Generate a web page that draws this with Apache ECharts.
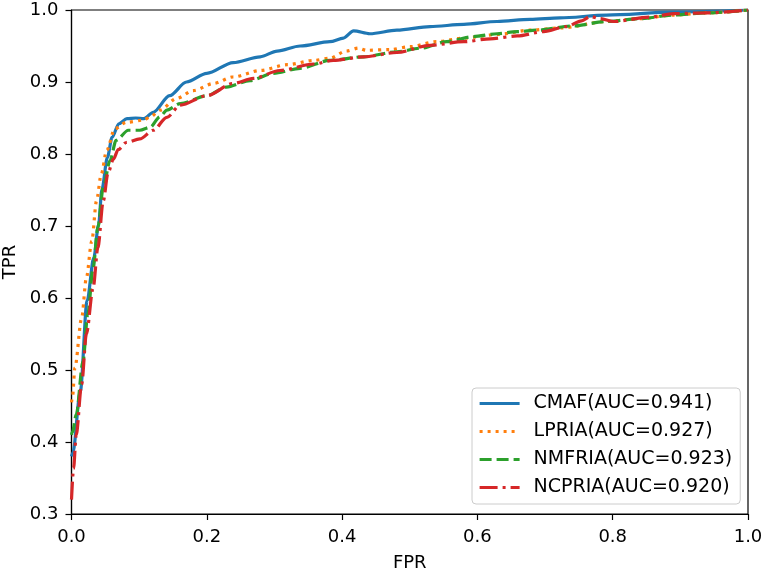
<!DOCTYPE html>
<html>
<head>
<meta charset="utf-8">
<title>ROC</title>
<script src="https://cdn.jsdelivr.net/npm/echarts@6/dist/echarts.min.js"></script>
<style>
    html, body { margin: 0; padding: 0; background: #fff; }
    #main { width: 765px; height: 571px; }
</style>
</head>
<body>
<div id="main"></div>
<script>
//刻度
let xTicks = [0, 0.2, 0.4, 0.6, 0.8, 1.0]
let yTicks = [0.3, 0.4, 0.5, 0.6, 0.7, 0.8, 0.9, 1.0]

//图例名称
let names = ['CMAF(AUC=0.941)', 'LPRIA(AUC=0.927)', 'NMFRIA(AUC=0.923)', 'NCPRIA(AUC=0.920)']

//CMAF
let cmafFpr = [0, 0.002, 0.013, 0.023, 0.033, 0.040, 0.045, 0.053, 0.060, 0.070, 0.082, 0.095, 0.107, 0.121, 0.145, 0.17, 0.2, 0.239, 0.279, 0.304, 0.338, 0.382, 0.402, 0.417, 0.441, 0.481, 0.53, 0.58, 0.629, 0.678, 0.722, 0.791, 0.89, 1.0]
let cmafTpr = [0.38, 0.385, 0.47, 0.596, 0.656, 0.702, 0.751, 0.795, 0.823, 0.842, 0.849, 0.85, 0.849, 0.858, 0.881, 0.900, 0.912, 0.927, 0.935, 0.943, 0.950, 0.956, 0.961, 0.971, 0.967, 0.972, 0.977, 0.980, 0.984, 0.987, 0.989, 0.993, 0.997, 1.0]

//LPRIA
let lpriaFpr = [0, 0.0015, 0.005, 0.015, 0.022, 0.03, 0.037, 0.044, 0.052, 0.064, 0.081, 0.106, 0.116, 0.131, 0.155, 0.18, 0.21, 0.239, 0.279, 0.319, 0.358, 0.382, 0.406, 0.424, 0.436, 0.471, 0.50, 0.54, 0.58, 0.629, 0.678, 0.722, 0.791, 0.84, 0.89, 0.94, 1.0]
let lpriaTpr = [0.455, 0.463, 0.503, 0.572, 0.628, 0.679, 0.735, 0.772, 0.805, 0.835, 0.844, 0.847, 0.851, 0.861, 0.877, 0.888, 0.898, 0.907, 0.916, 0.924, 0.930, 0.933, 0.943, 0.947, 0.944, 0.945, 0.949, 0.956, 0.961, 0.966, 0.972, 0.975, 0.984, 0.988, 0.993, 0.996, 1.0]

//NMFRIA
let nmfriaFpr = [0, 0.0015, 0.007, 0.017, 0.024, 0.032, 0.039, 0.047, 0.057, 0.066, 0.084, 0.101, 0.116, 0.131, 0.141, 0.161, 0.2, 0.229, 0.264, 0.298, 0.338, 0.382, 0.432, 0.481, 0.516, 0.555, 0.594, 0.629, 0.659, 0.689, 0.742, 0.791, 0.84, 0.89, 0.94, 1.0]
let nmfriaTpr = [0.41, 0.414, 0.438, 0.512, 0.577, 0.642, 0.698, 0.754, 0.791, 0.819, 0.833, 0.833, 0.837, 0.852, 0.861, 0.870, 0.881, 0.893, 0.902, 0.912, 0.919, 0.930, 0.935, 0.942, 0.947, 0.956, 0.963, 0.967, 0.970, 0.972, 0.978, 0.984, 0.988, 0.993, 0.996, 1.0]

//NCPRIA
let ncpriaFpr = [0, 0.003, 0.007, 0.015, 0.022, 0.032, 0.039, 0.047, 0.054, 0.062, 0.069, 0.081, 0.101, 0.121, 0.141, 0.161, 0.2, 0.239, 0.269, 0.308, 0.358, 0.387, 0.432, 0.481, 0.53, 0.58, 0.619, 0.659, 0.698, 0.732, 0.754, 0.767, 0.781, 0.801, 0.855, 0.89, 0.939, 1.0]
let ncpriaTpr = [0.32, 0.363, 0.41, 0.48, 0.55, 0.614, 0.67, 0.735, 0.774, 0.793, 0.806, 0.816, 0.821, 0.833, 0.851, 0.868, 0.881, 0.898, 0.905, 0.916, 0.925, 0.930, 0.935, 0.941, 0.951, 0.956, 0.960, 0.964, 0.970, 0.977, 0.985, 0.991, 0.988, 0.984, 0.99, 0.995, 0.996, 1.0]

let fontName = 'DejaVu Sans'

//拼成 [x, y]
function zip(xs, ys){
    let arr = []
    xs.forEach((x, i) => {
        arr.push([x, ys[i]])
    })
    return arr
}

function makeSeries(name, data, color, dash){
    return {
        name: name,
        type: 'line',
        data: data,
        symbol: 'none',
        smooth: 0.3,
        smoothMonotone: 'x',
        lineStyle: { color: color, width: 3.2, type: dash },
        itemStyle: { color: color }
    }
}

let myChart = echarts.init(document.getElementById('main'), null, { renderer: 'canvas' })

let axisFont = { fontFamily: fontName, fontSize: 18, color: '#000' }

let option = {
    animation: false,
    backgroundColor: '#fff',
    textStyle: { fontFamily: fontName },
    grid: {
        left: 71.5, right: 17, top: 10, bottom: 57,
        outerBoundsMode: 'none',
        containLabel: false,
        show: true, borderColor: '#000', borderWidth: 1.2, backgroundColor: 'transparent'
    },
    legend: {
        orient: 'vertical',
        left: 472, top: 388,
        itemWidth: 40, itemHeight: 14, itemGap: 9,
        padding: [6, 8, 7, 6],
        backgroundColor: '#fff',
        borderColor: '#cccccc', borderWidth: 1, borderRadius: 4,
        //不显示图例中的圆点
        itemStyle: { opacity: 0 },
        lineStyle: { width: 3.2 },
        textStyle: { fontFamily: fontName, fontSize: 19, color: '#000', padding: [0, 0, 0, 9] },
        data: names
    },
    xAxis: {
        type: 'value',
        min: xTicks[0], max: xTicks[xTicks.length - 1], interval: 0.2,
        name: 'FPR', nameLocation: 'middle', nameGap: 40,
        nameTextStyle: axisFont,
        axisLine: { show: true, lineStyle: { color: '#000', width: 1.2 } },
        axisTick: { show: true, inside: false, length: 6, lineStyle: { color: '#000', width: 1.2 } },
        axisLabel: Object.assign({ margin: 14, formatter: v => v.toFixed(1) }, axisFont),
        splitLine: { show: false }
    },
    yAxis: {
        type: 'value',
        min: yTicks[0], max: yTicks[yTicks.length - 1], interval: 0.1,
        name: 'TPR', nameLocation: 'middle', nameGap: 50,
        nameTextStyle: axisFont,
        axisLine: { show: true, lineStyle: { color: '#000', width: 1.2 } },
        axisTick: { show: true, inside: false, length: 6, lineStyle: { color: '#000', width: 1.2 } },
        axisLabel: Object.assign({ margin: 13, formatter: v => v.toFixed(1) }, axisFont),
        splitLine: { show: false }
    },
    series: [
        makeSeries(names[0], zip(cmafFpr, cmafTpr), '#1f77b4', 'solid'),
        makeSeries(names[1], zip(lpriaFpr, lpriaTpr), '#ff7f0e', [3, 5]),
        makeSeries(names[2], zip(nmfriaFpr, nmfriaTpr), '#2ca02c', [12, 5]),
        makeSeries(names[3], zip(ncpriaFpr, ncpriaTpr), '#d62728', [18, 5, 3, 5])
    ]
}
myChart.setOption(option)
</script>
</body>
</html>
